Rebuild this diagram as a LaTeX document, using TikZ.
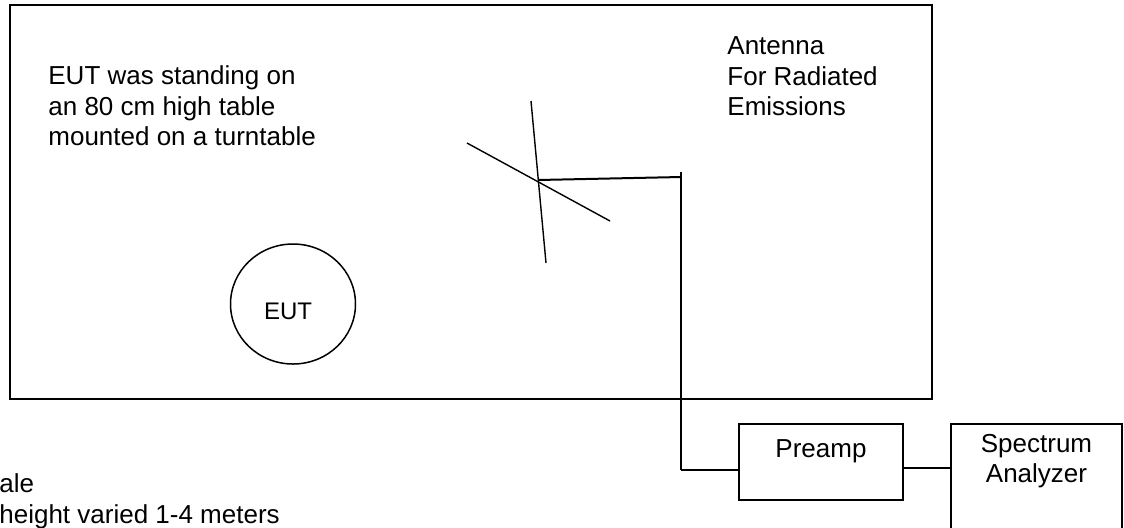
\documentclass[tikz,border=0pt]{standalone}
\usepackage{fontspec}
\setmainfont{Liberation Sans}
\usetikzlibrary{positioning,shapes.geometric}
\tikzset{
  wire/.style={line width=0.7pt, draw=black},
  feed/.style={line width=1pt, draw=black},
  unit/.style={draw=black, line width=0.7pt, inner sep=0pt},
  caption/.style={align=left, inner sep=0pt, font=\fontsize{13}{15.4}\selectfont},
  tag/.style={inner sep=0pt, align=center, anchor=north, font=\fontsize{13}{15}\selectfont},
}

\begin{document}
\begin{tikzpicture}[x=0.5pt,y=-0.5pt]
        \clip (0,0) rectangle (1124,527);
        % test site and equipment under test
        \node[unit,line width=1pt,minimum width=461pt,minimum height=197pt] (range) at (471,202) {};
        \node[unit,ellipse,line width=0.75pt,minimum width=62.5pt,minimum height=60pt] (eut) at (293,304) {};
        \node[font=\fontsize{12}{14}\selectfont,inner sep=0pt] (euttag) at (288,311) {EUT};
        \node[caption,anchor=north west] (eutnote) at (48,65) {EUT was standing on\\an 80 cm high table\\mounted on a turntable};
        \node[caption,anchor=north west] (antnote) at (727,36) {Antenna\\For Radiated\\Emissions};
        \node[caption,anchor=north west] (scalenote) at (-1,473) {ale\\height varied 1-4 meters};
        % antenna elements
        \coordinate (elemtop) at (531,101);
        \coordinate (elembot) at (546,263);
        \coordinate (dipleft) at (467,143);
        \coordinate (dipright) at (610,221);
        \coordinate (feedpt) at (538,180);
        \coordinate (masttop) at (681,172);
        \coordinate (mastbend) at (681,177);
        \coordinate (drop) at (681,470);
        \draw[wire] (elemtop) -- (elembot);
        \draw[wire] (dipleft) -- (dipright);
        % receiving chain
        \node[unit,minimum width=82pt,minimum height=38pt,
              label={[tag,yshift=-8pt]north:Preamp}] (preamp) at (821,462) {};
        \node[unit,minimum width=85.5pt,minimum height=70pt,
              label={[tag,yshift=-5.5pt]north:Spectrum\\Analyzer}] (analyzer) at (1036.5,494) {};
        \draw[feed] (feedpt) -- (mastbend);
        \draw[feed] (masttop) -- (drop);
        \draw[wire] (drop) -- (drop -| preamp.west);
        \draw[wire] ([yshift=-3pt]preamp.east) -- ([yshift=-3pt]preamp.east -| analyzer.west);
      \end{tikzpicture}
\end{document}
